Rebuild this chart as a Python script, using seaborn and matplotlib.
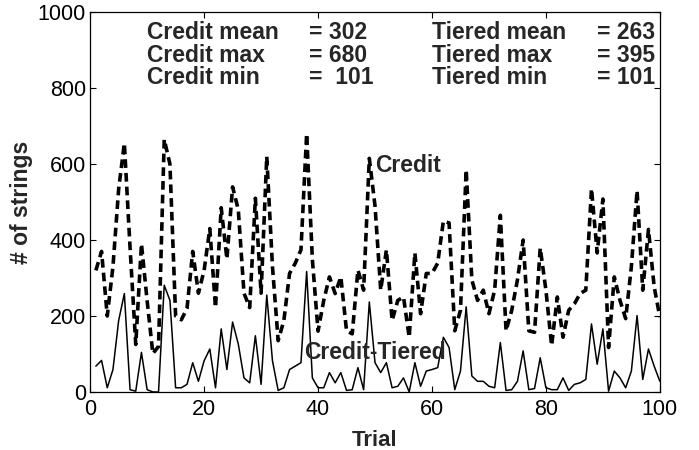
import numpy as np
import pandas as pd
import matplotlib
matplotlib.use("Agg")
import matplotlib.pyplot as plt
import seaborn as sns

trials = list(range(1, 101))
credit = [320, 370, 200, 330, 534, 655, 380, 125, 390, 240,
          101, 120, 665, 600, 200, 190, 220, 370, 260, 320,
          430, 222, 485, 350, 540, 480, 260, 222, 510, 260,
          620, 330, 135, 188, 312, 339, 374, 680, 350, 160,
          241, 303, 259, 303, 161, 153, 321, 268, 615, 490,
          268, 374, 188, 241, 250, 144, 366, 206, 312, 312,
          339, 450, 445, 161, 215, 585, 295, 241, 268, 206,
          268, 465, 161, 215, 295, 400, 161, 157, 379, 268,
          122, 250, 144, 215, 232, 259, 268, 535, 366, 508,
          117, 303, 241, 193, 330, 530, 268, 428, 277, 197]
diff = [68, 83, 11, 59, 188, 259, 6, 2, 104, 6,
        0, 0, 281, 241, 11, 11, 20, 77, 28, 82,
        113, 11, 166, 59, 184, 126, 37, 24, 148, 20,
        255, 82, 4, 11, 59, 68, 77, 317, 37, 11,
        11, 51, 24, 51, 4, 6, 64, 6, 237, 77,
        51, 77, 11, 15, 37, 0, 77, 15, 55, 59,
        64, 144, 117, 6, 55, 224, 42, 28, 28, 15,
        11, 130, 4, 6, 28, 108, 6, 9, 90, 11,
        6, 6, 37, 4, 20, 24, 33, 179, 73, 166,
        2, 55, 37, 11, 55, 201, 33, 113, 68, 28]
series_names = ["Credit", "Credit-Tiered"]
stat_left = ["Credit mean", "Credit max", "Credit min"]
stat_left_vals = ["= 302", "= 680", "=  101"]
stat_right = ["Tiered mean", "Tiered max", "Tiered min"]
stat_right_vals = ["= 263", "= 395", "= 101"]

df = pd.DataFrame({
    "Trial": trials * 2,
    "value": credit + diff,
    "series": [series_names[0]] * len(trials) + [series_names[1]] * len(trials),
})

sns.set_style("ticks")
plt.rcParams["font.family"] = ["Liberation Sans", "DejaVu Sans"]

fig = plt.figure(figsize=(6.99, 4.50), dpi=100)
ax = fig.add_axes([0.129, 0.129, 0.815, 0.844])

sns.lineplot(data=df, x="Trial", y="value", hue="series", style="series",
             palette={"Credit": "black", "Credit-Tiered": "black"},
             dashes={"Credit": (2.4, 1.4), "Credit-Tiered": ""},
             size="series", sizes={"Credit": 2.6, "Credit-Tiered": 1.1},
             legend=False, ax=ax)

ax.set_xlim(0, 100)
ax.set_ylim(0, 1000)
ax.set_xticks([0, 20, 40, 60, 80, 100])
ax.set_yticks([0, 200, 400, 600, 800, 1000])
ax.tick_params(direction="in", length=4, labelsize=15.5, top=True, right=True,
               colors="black")
ax.tick_params(axis="y", pad=3)
ax.tick_params(axis="x", pad=5)
for s in ax.spines.values():
    s.set_visible(True)
    s.set_color("black")
    s.set_linewidth(0.9)

ax.set_ylabel("# of strings", fontsize=16.5, fontweight="bold")
ax.set_xlabel("Trial", fontsize=16, fontweight="bold")
ax.xaxis.set_label_coords(0.5, -0.1)
ax.yaxis.set_label_coords(-0.1, 0.5)

row_y = [947, 886, 827]
fs = 16.5
for i in range(3):
    ax.text(10, row_y[i], stat_left[i], fontsize=fs, fontweight="bold", va="center")
    ax.text(38.5, row_y[i], stat_left_vals[i], fontsize=fs, fontweight="bold", va="center")
    ax.text(60, row_y[i], stat_right[i], fontsize=fs, fontweight="bold", va="center")
    ax.text(88.9, row_y[i], stat_right_vals[i], fontsize=fs, fontweight="bold", va="center")

ax.text(50, 596, "Credit", fontsize=fs, fontweight="bold", va="center")
ax.text(37.5, 104, "Credit-Tiered", fontsize=fs, fontweight="bold", va="center")

fig.savefig("out.png", dpi=100, facecolor="white")
